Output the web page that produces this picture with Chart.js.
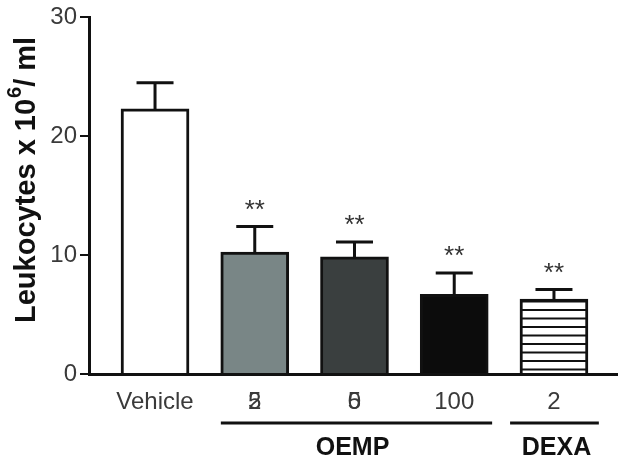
<!DOCTYPE html>
<html><head><meta charset="utf-8">
<script src="https://cdn.jsdelivr.net/npm/chart.js@4/dist/chart.umd.min.js"></script>
<style>html,body{margin:0;padding:0;background:#fff}#wrap{width:618px;height:461px}</style>
</head><body><div id="wrap"><canvas id="c" width="618" height="461"></canvas></div>
<script>
const tickLabels = ["Vehicle", "2", "5", "100", "2"];
const overlayLabels = ["", "5", "0", "", ""];
const means = [22.3, 10.25, 9.85, 6.7, 6.3];
const errors = [2.2, 2.15, 1.25, 1.8, 0.8];
const stars = ["", "**", "**", "**", "**"];
const yTicks = [0, 10, 20, 30];
const groups = [
  { label: "OEMP", from: 0.66, to: 3.38, shift: -4 },
  { label: "DEXA", from: 3.56, to: 4.45, shift: 2 }
];
const yTitleMain = "Leukocytes x 10";
const yTitleSup = "6";
const yTitleEnd = "/ ml";

const FONT = "'Liberation Sans', Arial, sans-serif";

// stripe pattern for DEXA
const pc = document.createElement('canvas');
pc.width = 8; pc.height = 17;
const pctx = pc.getContext('2d');
pctx.fillStyle = '#fff'; pctx.fillRect(0, 0, 8, 17);
pctx.fillStyle = '#111'; pctx.fillRect(0, 3, 8, 2); pctx.fillRect(0, 11.5, 8, 2);
const ctx0 = document.getElementById('c').getContext('2d');
const stripe = ctx0.createPattern(pc, 'repeat');

const fills = ['#ffffff', '#798686', '#3a3f3f', '#0c0c0c', stripe];

const extras = {
  id: 'extras',
  afterDatasetsDraw(chart) {
    const ctx = chart.ctx, xs = chart.scales.x, ys = chart.scales.y;
    ctx.save();
    ctx.strokeStyle = '#111'; ctx.lineWidth = 3; ctx.lineCap = 'butt';
    means.forEach((m, i) => {
      const x = xs.getPixelForValue(i);
      const yb = ys.getPixelForValue(m);
      const yt = ys.getPixelForValue(m + errors[i]);
      ctx.beginPath();
      ctx.moveTo(x, yb); ctx.lineTo(x, yt);
      ctx.moveTo(x - 18.5, yt); ctx.lineTo(x + 18.5, yt);
      ctx.stroke();
      if (stars[i]) {
        ctx.fillStyle = '#333';
        ctx.font = '26px ' + FONT;
        ctx.textAlign = 'center'; ctx.textBaseline = 'alphabetic';
        ctx.fillText(stars[i], x, yt - 9);
      }
      if (overlayLabels[i]) {
        ctx.fillStyle = '#3a3a3a';
        ctx.font = '24px ' + FONT;
        ctx.textAlign = 'center'; ctx.textBaseline = 'middle';
        ctx.fillText(overlayLabels[i], x, ys.bottom + 28);
      }
    });
    groups.forEach(g => {
      const x1 = xs.getPixelForValue(g.from), x2 = xs.getPixelForValue(g.to);
      ctx.strokeStyle = '#111'; ctx.lineWidth = 3;
      ctx.beginPath(); ctx.moveTo(x1, ys.bottom + 49); ctx.lineTo(x2, ys.bottom + 49); ctx.stroke();
      ctx.fillStyle = '#111';
      ctx.font = 'bold 25px ' + FONT;
      ctx.textAlign = 'center'; ctx.textBaseline = 'middle';
      ctx.fillText(g.label, (x1 + x2) / 2 + g.shift, ys.bottom + 74);
    });
    // y axis title with superscript
    ctx.save();
    ctx.translate(35, 323);
    ctx.rotate(-Math.PI / 2);
    ctx.fillStyle = '#111';
    ctx.textAlign = 'left'; ctx.textBaseline = 'alphabetic';
    ctx.font = 'bold 29px ' + FONT;
    const w = ctx.measureText(yTitleMain).width;
    ctx.fillText(yTitleMain, 0, 0);
    ctx.font = 'bold 20px ' + FONT;
    ctx.fillText(yTitleSup, w + 1, -14);
    const w2 = ctx.measureText(yTitleSup).width;
    ctx.font = 'bold 29px ' + FONT;
    ctx.fillText(yTitleEnd, w + 1 + w2, 0);
    ctx.restore();
    ctx.restore();
  }
};

new Chart(document.getElementById('c'), {
  type: 'bar',
  data: {
    datasets: [{
      data: means.map((v, i) => ({ x: i, y: v })),
      backgroundColor: fills,
      borderColor: '#111',
      borderWidth: 3,
      borderSkipped: 'bottom',
      barThickness: 68
    }]
  },
  options: {
    responsive: false,
    animation: false,
    events: [],
    layout: { padding: { top: 17, right: 1, left: 0, bottom: 0 } },
    plugins: { legend: { display: false }, tooltip: { enabled: false } },
    scales: {
      x: {
        type: 'linear',
        offset: false,
        min: -0.662, max: 4.632,
        afterBuildTicks(s) { s.ticks = tickLabels.map((_, i) => ({ value: i })); },
        afterFit(s) { s.height = 87; },
        grid: { display: false, drawTicks: false },
        border: { color: '#111', width: 3 },
        ticks: {
          callback: v => tickLabels[v] ?? '',
          color: '#3a3a3a',
          font: { family: FONT, size: 24 },
          padding: 14,
          maxRotation: 0, autoSkip: false
        }
      },
      y: {
        min: 0, max: 30,
        afterBuildTicks(s) { s.ticks = yTicks.map(v => ({ value: v })); },
        afterFit(s) { s.width = 89; },
        grid: { drawOnChartArea: false, drawTicks: true, tickLength: 9, color: '#111', lineWidth: 2 },
        border: { color: '#111', width: 3 },
        ticks: {
          color: '#3a3a3a',
          font: { family: FONT, size: 24 },
          padding: 3
        }
      }
    }
  },
  plugins: [extras]
});
</script></body></html>
